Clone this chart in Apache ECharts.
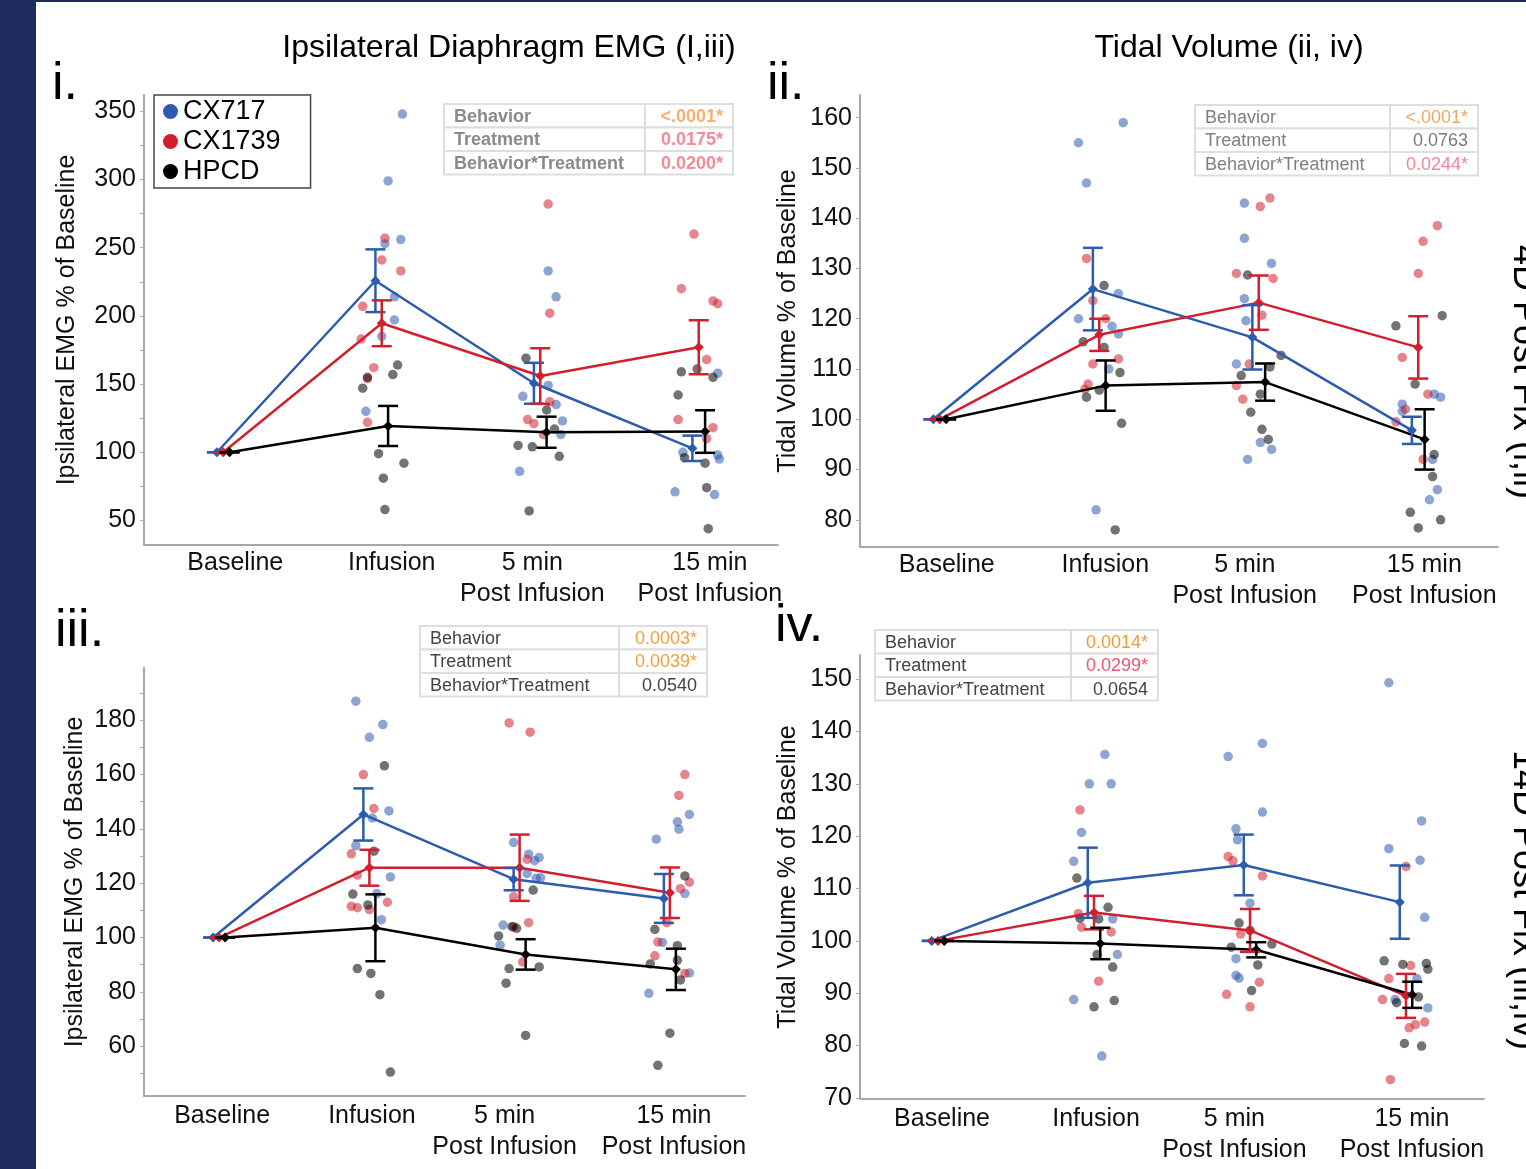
<!DOCTYPE html>
<html>
<head>
<meta charset="utf-8">
<style>
html, body { margin: 0; padding: 0; background: #fff; }
#chart { width: 1526px; height: 1169px; }
</style>
<script src="https://cdn.jsdelivr.net/npm/echarts@6/dist/echarts.min.js"></script>
</head>
<body>
<div id="chart"></div>
<script>
// ---- data ----
var groups = ['CX717', 'CX1739', 'HPCD'];
var timepoints = ['Baseline', 'Infusion', '5 min\nPost Infusion', '15 min\nPost Infusion'];

// panel i : ipsilateral EMG, 4D post fix
var meansI = [[100, 225.8, 150.6, 102.9], [100, 194.6, 155.9, 177], [100, 119.3, 114.7, 115.2]];
var errsI = [[0, 23, 15, 9.3], [0, 16.8, 20.4, 19.8], [0, 14.7, 11.4, 15.6]];
var ptsI_CX717 = [
  [1.13, 348], [1.04, 299], [1.12, 256], [1.02, 253], [1.08, 214], [1.08, 197], [1.0, 185], [0.9, 130],
  [2.05, 233], [2.1, 214], [2.05, 149], [1.89, 141], [2.1, 135], [2.14, 123], [2.13, 113], [1.87, 86],
  [3.12, 158], [2.9, 100], [3.12, 98], [3.13, 95], [2.85, 71], [3.1, 69]
];
var ptsI_CX1739 = [
  [1.02, 257], [1.0, 241], [1.12, 233], [0.88, 207], [0.87, 183], [0.95, 162], [0.91, 154], [0.91, 122],
  [2.05, 282], [2.06, 202], [2.06, 137], [1.92, 124], [1.96, 121], [2.02, 113],
  [2.97, 260], [2.89, 220], [3.09, 211], [3.12, 209], [3.05, 168], [2.87, 124], [3.09, 118], [3.05, 110]
];
var ptsI_HPCD = [
  [1.1, 164], [1.07, 157], [0.91, 155], [0.88, 147], [0.98, 99], [1.14, 92], [1.01, 81], [1.02, 58],
  [1.91, 169], [2.04, 131], [2.09, 117], [1.86, 105], [1.95, 104], [2.12, 97], [1.93, 57],
  [2.89, 159], [2.99, 161], [3.09, 155], [2.87, 142], [2.91, 96], [3.04, 92], [3.05, 74], [3.06, 44]
];

// panel ii : tidal volume, 4D post fix
var meansII = [[100, 125.9, 116.3, 97.8], [100, 116.8, 123.2, 114.3], [100, 106.7, 107.4, 96]];
var errsII = [[0, 8.2, 6.4, 2.7], [0, 3.2, 5.4, 6.2], [0, 5, 3.7, 6]];
var ptsII_CX717 = [
  [1.15, 159], [0.87, 155], [0.92, 147], [1.12, 125], [0.87, 120], [1.08, 118.5], [1.12, 117], [1.06, 110], [0.98, 82],
  [1.91, 143], [1.91, 136], [2.08, 131], [1.91, 124], [1.92, 119.6], [1.86, 111], [2.01, 95.4], [2.08, 94], [1.93, 92],
  [3.1, 105], [3.14, 104.4], [2.9, 103], [2.9, 101.6], [3.09, 92], [3.12, 86], [3.07, 84]
];
var ptsII_CX1739 = [
  [0.92, 132], [0.96, 123.6], [1.04, 120], [1.12, 112], [0.96, 111], [0.93, 107], [0.91, 106],
  [2.07, 144], [2.01, 142.3], [1.86, 129], [2.09, 128], [2.02, 120.7], [1.94, 111], [1.86, 106.7], [1.9, 104],
  [3.12, 138.5], [3.03, 135.4], [3.0, 129], [2.9, 112.3], [3.06, 105], [2.92, 102], [2.86, 99.5], [3.03, 92]
];
var ptsII_HPCD = [
  [1.03, 126.6], [0.9, 115.4], [1.03, 114.3], [1.13, 109.3], [1.0, 105.8], [0.92, 104.4], [1.14, 99.2], [1.1, 78],
  [1.93, 128.7], [2.14, 112.7], [2.07, 110.4], [1.89, 108.7], [2.01, 105], [1.95, 101.4], [2.02, 98], [2.06, 96],
  [3.15, 120.6], [2.86, 118.6], [2.98, 107], [3.1, 93], [3.09, 88.6], [2.95, 81.5], [3.14, 80], [3.0, 78.4]
];

// panel iii : ipsilateral EMG, 14D post fix
var meansIII = [[100, 145.3, 121.5, 114.4], [100, 125.7, 125.7, 116.5], [100, 103.6, 93.8, 88.3]];
var errsIII = [[0, 9.6, 4.1, 9], [0, 6.6, 12.2, 9.3], [0, 12.3, 5.6, 7.6]];
var ptsIII_CX717 = [
  [0.91, 187], [1.09, 178.4], [1.0, 173.7], [1.13, 146.6], [1.02, 144], [0.91, 133.8], [1.14, 122.3], [1.05, 116.2], [1.08, 106.6],
  [1.96, 135], [2.06, 130.7], [2.13, 129.5], [2.1, 128.3], [2.05, 123.6], [2.11, 121.8], [2.14, 122], [1.89, 104.6], [1.87, 97.2],
  [3.13, 145.3], [3.05, 142.6], [3.06, 139.9], [2.91, 136.2], [3.1, 116.2], [2.95, 98.2], [3.13, 87], [2.86, 79.5]
];
var ptsIII_CX1739 = [
  [0.96, 160], [1.03, 147.5], [0.88, 130.8], [0.92, 123], [1.12, 113], [0.88, 111.5], [0.92, 111], [1.0, 110.3],
  [1.93, 179], [2.07, 175.6], [2.05, 128.8], [1.96, 115], [2.06, 105.5], [2.02, 91], [1.96, 104],
  [3.1, 160], [3.06, 152.3], [3.07, 118], [3.13, 120.4], [2.98, 105.5], [2.92, 98.4], [2.9, 93.3], [3.1, 86.8]
];
var ptsIII_HPCD = [
  [1.1, 163.2], [1.03, 131.8], [0.89, 116], [0.99, 112], [0.92, 88.6], [1.01, 86.8], [1.07, 79], [1.14, 50.5],
  [2.09, 117.5], [1.95, 104], [1.98, 103.4], [1.86, 100.6], [2.13, 89.2], [1.93, 88.6], [1.91, 83.2], [2.04, 64],
  [3.1, 122.7], [2.9, 103], [3.05, 97], [2.87, 90.3], [3.05, 91.7], [3.07, 84.4], [3.0, 64.8], [2.92, 53]
];

// panel iv : tidal volume, 14D post fix
var meansIV = [[100, 111.1, 114.5, 107.4], [100, 105.4, 102, 89.5], [100, 99.5, 98.3, 89.7]];
var errsIV = [[0, 6.7, 5.8, 7], [0, 3.2, 4.1, 4.2], [0, 3, 1.45, 2.5]];
var ptsIV_CX717 = [
  [1.07, 135.6], [0.97, 130], [1.11, 130], [0.92, 120.7], [0.87, 115.2], [1.12, 104.2], [1.15, 97.4], [0.87, 88.8], [1.05, 78],
  [2.08, 137.7], [1.86, 135.2], [2.08, 124.6], [1.91, 121.4], [1.92, 119.3], [2.0, 107.2], [1.91, 96.6], [1.91, 93.4], [1.93, 92.9],
  [2.89, 149.3], [3.1, 122.9], [2.89, 117.6], [3.09, 115.4], [3.12, 104.5], [3.07, 92.8], [2.93, 88.8], [3.14, 87.2]
];
var ptsIV_CX1739 = [
  [0.91, 125], [0.9, 105.2], [0.92, 102.6], [1.11, 101.7], [1.03, 92.3],
  [1.86, 116.1], [1.89, 115.3], [2.08, 112.4], [1.94, 101.3], [2.06, 92.1], [1.85, 89.8], [2.0, 87.4],
  [3.0, 114.2], [3.03, 95.3], [2.89, 92.8], [2.85, 88.8], [3.12, 84.5], [3.06, 84], [3.02, 83.4], [2.9, 73.5]
];
var ptsIV_HPCD = [
  [0.89, 112], [1.09, 106.4], [1.03, 104.2], [0.91, 104.3], [1.02, 97.4], [1.12, 95], [1.13, 88.6], [1.0, 87.4],
  [1.93, 103.4], [2.0, 102], [2.14, 99.4], [1.88, 98.8], [2.05, 95.4], [2.01, 90.5],
  [2.86, 96.2], [2.98, 95.5], [3.13, 95.7], [3.14, 94.6], [2.94, 88.2], [3.08, 89.3], [2.99, 80.4], [3.1, 79.9]
];

// tick labels
var yLabelsI = [50, 100, 150, 200, 250, 300, 350];
var yLabelsII = [80, 90, 100, 110, 120, 130, 140, 150, 160];
var yLabelsIII = [60, 80, 100, 120, 140, 160, 180];
var yLabelsIV = [70, 80, 90, 100, 110, 120, 130, 140, 150];

// stats tables
var tblRows = ['Behavior', 'Treatment', 'Behavior*Treatment'];
var pvalsI = ['<.0001*', '0.0175*', '0.0200*'];
var pvalsII = ['<.0001*', '0.0763', '0.0244*'];
var pvalsIII = ['0.0003*', '0.0039*', '0.0540'];
var pvalsIV = ['0.0014*', '0.0299*', '0.0654'];

// ---- drawing ----
var FONT = '"Liberation Sans", Arial, sans-serif';
var lineColors = ['#2d5bae', '#d11f2e', '#000000'];
var dodge = [-0.04, 0, 0.04];

function range(a, b, s) { var r = []; for (var v = a; v <= b + 1e-9; v += s) r.push(v); return r; }

// category label spots are nudged a little, like the original layout
var panels = [
  { grid: {left: 144, top: 95, width: 634, height: 450}, min: 32, max: 362, labels: yLabelsI, ticks: range(50, 350, 25),
    xLab: [0.076, 1.063, 1.95, 3.07],
    name: 'Ipsilateral EMG % of Baseline', nameGap: 64, xMargin: 3, means: meansI, errs: errsI, pts: [ptsI_CX717, ptsI_CX1739, ptsI_HPCD] },
  { grid: {left: 860, top: 95, width: 638, height: 452}, min: 74.6, max: 164.5, labels: yLabelsII, ticks: yLabelsII,
    xLab: [0.044, 1.038, 1.912, 3.038],
    name: 'Tidal Volume % of Baseline', nameGap: 59, xMargin: 3, means: meansII, errs: errsII, pts: [ptsII_CX717, ptsII_CX1739, ptsII_HPCD] },
  { grid: {left: 144, top: 668, width: 601, height: 428}, min: 41.7, max: 199.2, labels: yLabelsIII, ticks: range(50, 190, 10),
    xLab: [0.02, 1.017, 1.9, 3.027],
    name: 'Ipsilateral EMG % of Baseline', nameGap: 56, xMargin: 5, means: meansIII, errs: errsIII, pts: [ptsIII_CX717, ptsIII_CX1739, ptsIII_HPCD] },
  { grid: {left: 860, top: 655, width: 624, height: 444}, min: 69.8, max: 154.6, labels: yLabelsIV, ticks: yLabelsIV,
    xLab: [0.026, 1.013, 1.9, 3.038],
    name: 'Tidal Volume % of Baseline', nameGap: 59, xMargin: 5, means: meansIV, errs: errsIV, pts: [ptsIV_CX717, ptsIV_CX1739, ptsIV_HPCD] }
];

function errBar(color) {
  return function (params, api) {
    var x = api.value(0);
    var hi = api.coord([x, api.value(2)]);
    var lo = api.coord([x, api.value(1)]);
    var st = {stroke: color, lineWidth: 2.5};
    return {
      type: 'group',
      children: [
        {type: 'line', shape: {x1: hi[0], y1: hi[1], x2: lo[0], y2: lo[1]}, style: st},
        {type: 'line', shape: {x1: hi[0] - 10, y1: hi[1], x2: hi[0] + 10, y2: hi[1]}, style: st},
        {type: 'line', shape: {x1: lo[0] - 10, y1: lo[1], x2: lo[0] + 10, y2: lo[1]}, style: st}
      ]
    };
  };
}

var grids = [], xAxes = [], yAxes = [], series = [];
panels.forEach(function (p, k) {
  grids.push(p.grid);
  xAxes.push({
    type: 'value', gridIndex: k, min: -0.5, max: 3.5,
    axisLine: {show: true, onZero: false, lineStyle: {color: '#a8a8a8', width: 2}},
    axisTick: {show: false}, splitLine: {show: false},
    axisLabel: {
      customValues: p.xLab,
      formatter: function (v) { return timepoints[Math.round(v)]; },
      fontSize: 25, lineHeight: 31, color: '#111', fontFamily: FONT, margin: p.xMargin
    }
  });
  yAxes.push({
    type: 'value', gridIndex: k, min: p.min, max: p.max,
    name: p.name, nameLocation: 'middle', nameGap: p.nameGap,
    nameTextStyle: {fontSize: 25, color: '#111', fontFamily: FONT},
    axisLine: {show: true, onZero: false, lineStyle: {color: '#a8a8a8', width: 2}},
    axisTick: {show: true, customValues: p.ticks, length: 4, lineStyle: {color: '#a8a8a8', width: 1}},
    splitLine: {show: false},
    axisLabel: {customValues: p.labels, fontSize: 25, color: '#111', fontFamily: FONT, margin: 8}
  });
  for (var g = 0; g < 3; g++) {
    series.push({
      type: 'scatter', name: groups[g] + ' pts', xAxisIndex: k, yAxisIndex: k,
      data: p.pts[g], symbolSize: 9.5, silent: true, z: 2,
      itemStyle: {color: lineColors[g], opacity: 0.55}
    });
  }
  for (var g2 = 0; g2 < 3; g2++) {
    (function (g) {
      series.push({
        type: 'line', name: groups[g], xAxisIndex: k, yAxisIndex: k, z: 4,
        data: p.means[g].map(function (m, i) { return [i + dodge[g], m]; }),
        symbol: 'diamond', symbolSize: 10, showSymbol: true,
        lineStyle: {width: 2.5, color: lineColors[g]}, itemStyle: {color: lineColors[g]}
      });
      series.push({
        type: 'custom', name: groups[g] + ' err', xAxisIndex: k, yAxisIndex: k, z: 5,
        encode: {x: 0, y: [1, 2]},
        data: p.means[g].map(function (m, i) { return [i + dodge[g], m - p.errs[g][i], m + p.errs[g][i]]; }),
        renderItem: errBar(lineColors[g])
      });
    })(g2);
  }
});

function table(x, y, w, split, rowH, vals, valColors, labColor, bold) {
  var els = [];
  var font = (bold ? 'bold ' : '') + '18px ' + FONT;
  for (var r = 0; r < 3; r++) {
    var ty = y + r * rowH;
    els.push({type: 'rect', z: 20, shape: {x: x, y: ty, width: split - x, height: rowH}, style: {fill: '#fff', stroke: '#dedede', lineWidth: 2}});
    els.push({type: 'rect', z: 20, shape: {x: split, y: ty, width: x + w - split, height: rowH}, style: {fill: '#fff', stroke: '#dedede', lineWidth: 2}});
    els.push({type: 'text', z: 21, x: x + 10, y: ty + rowH / 2 + 1, style: {text: tblRows[r], fill: labColor, font: font, verticalAlign: 'middle'}});
    els.push({type: 'text', z: 21, x: x + w - 10, y: ty + rowH / 2 + 1, style: {text: vals[r], fill: valColors[r], font: font, align: 'right', verticalAlign: 'middle'}});
  }
  return els;
}

function txt(x, y, s, size, opts) {
  opts = opts || {};
  return {
    type: 'text', x: x, y: y, rotation: opts.rot || 0, z: 10,
    style: {text: s, fill: '#000', font: size + 'px ' + FONT, align: opts.align || 'left', verticalAlign: opts.va || 'middle'}
  };
}

var graphics = [
  {type: 'rect', shape: {x: 0, y: 0, width: 36, height: 1169}, style: {fill: '#1f2b5e'}},
  {type: 'rect', shape: {x: 36, y: 0, width: 1490, height: 2}, style: {fill: '#1f2b5e'}},
  txt(509, 48, 'Ipsilateral Diaphragm EMG (I,iii)', 32, {align: 'center'}),
  txt(1229, 48, 'Tidal Volume (ii, iv)', 32, {align: 'center'}),
  txt(52, 85, 'i.', 52),
  txt(767, 85, 'ii.', 52),
  txt(55, 632, 'iii.', 52),
  txt(775, 627, 'iv.', 52),
  txt(1506, 245, '4D Post Fix (i,ii)', 36, {rot: -Math.PI / 2, va: 'bottom'}),
  txt(1506, 750, '14D Post Fix (iii,iv)', 36, {rot: -Math.PI / 2, va: 'bottom'})
];
graphics = graphics
  .concat(table(444, 104, 289, 645, 23.5, pvalsI, ['#f5b070', '#f58a98', '#f58a98'], '#8a8a8a', true))
  .concat(table(1195, 105, 283, 1390, 23.5, pvalsII, ['#f0a860', '#7a7a7a', '#f08898'], '#808080', false))
  .concat(table(420, 626, 287, 619, 23.5, pvalsIII, ['#f0a040', '#f0a040', '#444'], '#444', false))
  .concat(table(875, 630, 283, 1071, 23.5, pvalsIV, ['#f09a3a', '#f0566a', '#444'], '#444', false));

var myChart = echarts.init(document.getElementById('chart'));
var option = {
  animation: false,
  backgroundColor: '#fff',
  textStyle: {fontFamily: FONT},
  grid: grids,
  xAxis: xAxes,
  yAxis: yAxes,
  legend: {
    data: groups, selectedMode: false, orient: 'vertical',
    left: 154, top: 95, padding: [3, 30, 3, 9], itemGap: 3,
    itemWidth: 15, itemHeight: 15, icon: 'circle',
    borderColor: '#444', borderWidth: 1.5, backgroundColor: '#fff',
    textStyle: {fontSize: 27, color: '#000', fontFamily: FONT}
  },
  graphic: graphics,
  series: series
};
myChart.setOption(option);
</script>
</body>
</html>
